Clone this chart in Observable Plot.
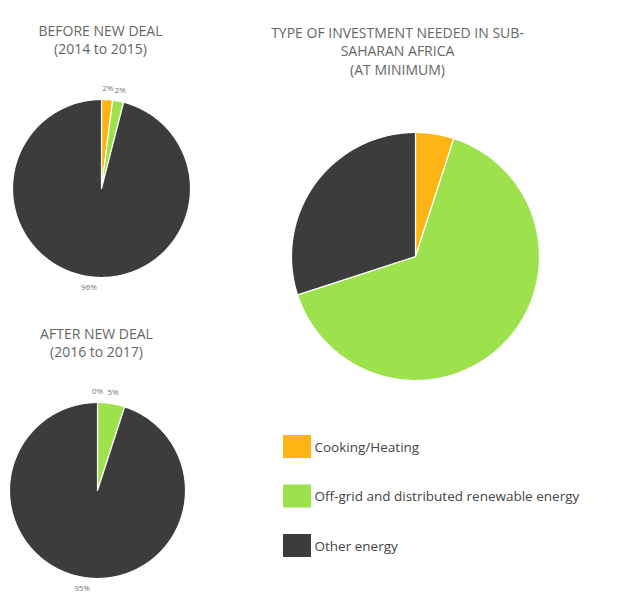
<!DOCTYPE html>
<html>
<head>
<meta charset="utf-8">
<script src="https://cdn.jsdelivr.net/npm/d3@7"></script>
<script src="https://cdn.jsdelivr.net/npm/@observablehq/plot@0.6"></script>
<style>
  html, body { margin: 0; padding: 0; background: #fff; }
  #chart svg { display: block; }
</style>
</head>
<body>
<div id="chart"></div>
<script>
// ---- data ----
const categories = ["Cooking/Heating", "Off-grid and distributed renewable energy", "Other energy"];
const categoryColors = ["#FDB515", "#9DE24C", "#3C3C3C"];
const beforeValues = [2, 2, 96];
const afterValues = [0, 5, 95];
const neededValues = [5, 65, 30];
const beforeLabels = ["2%", "2%", "96%"];
const afterLabels = ["0%", "5%", "95%"];
const beforeTitle = ["BEFORE NEW DEAL", "(2014 to 2015)"];
const afterTitle = ["AFTER NEW DEAL", "(2016 to 2017)"];
const neededTitle = ["TYPE OF INVESTMENT NEEDED IN SUB-", "SAHARAN AFRICA", "(AT MINIMUM)"];

// ---- layout ----
const W = 633, H = 597;
const pies = [
  {name: "before", values: beforeValues, labels: beforeLabels, cx: 101, cy: 188, r: 89, showLabels: true},
  {name: "after", values: afterValues, labels: afterLabels, cx: 97, cy: 490, r: 88, showLabels: true},
  {name: "needed", values: neededValues, labels: null, cx: 415, cy: 256, r: 124, showLabels: false}
];

const slicePoints = [];
const labelRows = [];
for (const p of pies) {
  const total = d3.sum(p.values);
  let acc = 0;
  p.values.forEach((v, i) => {
    const a0 = acc / total * 2 * Math.PI;
    acc += v;
    const a1 = acc / total * 2 * Math.PI;
    const key = p.name + "-" + i;
    if (v > 0) {
      const n = Math.max(4, Math.ceil((a1 - a0) / 0.01));
      slicePoints.push({key, category: categories[i], x: p.cx, y: p.cy});
      for (let j = 0; j <= n; j++) {
        const a = a0 + (a1 - a0) * j / n;
        slicePoints.push({key, category: categories[i], x: p.cx + p.r * Math.sin(a), y: p.cy - p.r * Math.cos(a)});
      }
      slicePoints.push({key, category: categories[i], x: p.cx, y: p.cy});
    }
    if (p.showLabels) {
      const am = (a0 + a1) / 2;
      const lr = p.r + 11;
      labelRows.push({text: p.labels[i], x: p.cx + lr * Math.sin(am), y: p.cy - lr * Math.cos(am)});
    }
  });
}

const titleRows = [
  ...beforeTitle.map((t, i) => ({text: t, x: 100, y: 31 + i * 18})),
  ...afterTitle.map((t, i) => ({text: t, x: 96, y: 334 + i * 18})),
  ...neededTitle.map((t, i) => ({text: t, x: 397, y: 33 + i * 18.5}))
];

const legendRows = categories.map((c, i) => ({
  category: c,
  x1: 283, x2: 311,
  y1: 435 + i * 49.5, y2: 458 + i * 49.5,
  tx: 314, ty: 447 + i * 49.5
}));

const chart = Plot.plot({
  width: W,
  height: H,
  margin: 0,
  x: {type: "identity", axis: null},
  y: {type: "identity", axis: null},
  color: {domain: categories, range: categoryColors},
  style: {fontFamily: "'Open Sans', sans-serif", background: "#fff"},
  marks: [
    Plot.line(slicePoints, {x: "x", y: "y", z: "key", fill: "category", stroke: "#fff", strokeWidth: 1.2, curve: "linear"}),
    Plot.text(labelRows, {x: "x", y: "y", text: "text", fontSize: 8, fill: "#777"}),
    Plot.text(titleRows, {x: "x", y: "y", text: "text", fontSize: 14, fill: "#666", textAnchor: "middle", style: {letterSpacing: "0.6px"}}),
    Plot.rect(legendRows, {x1: "x1", x2: "x2", y1: "y1", y2: "y2", fill: "category"}),
    Plot.text(legendRows, {x: "tx", y: "ty", text: "category", fontSize: 13.5, fill: "#444", textAnchor: "start"})
  ]
});
document.getElementById("chart").appendChild(chart);
</script>
</body>
</html>
